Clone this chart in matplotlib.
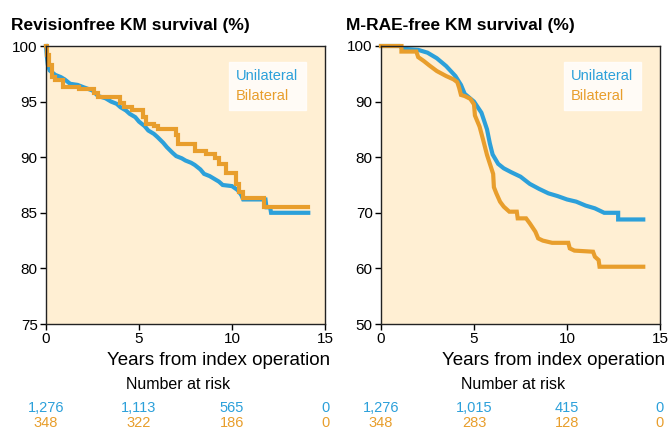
import matplotlib
matplotlib.use('Agg')
import matplotlib.pyplot as plt
from matplotlib.lines import Line2D

plt.rcParams['font.family'] = ['Liberation Sans', 'DejaVu Sans']

#Colours
c_uni = '#2ca0da'
c_bil = '#e89e2c'
c_bg = '#ffefd3'

#### Data ######################################################################
#Revision-free KM survival (%) - unilateral (curve vertices)
rev_uni_t = [0, 0.05, 0.1, 0.2, 0.35, 0.5, 0.8, 1.0, 1.3, 1.7, 2.0, 2.5, 2.8, 3.2, 3.5, 3.8,
             4.0, 4.3, 4.5, 4.8, 5.0, 5.3, 5.5, 5.8, 6.0, 6.3, 6.5, 6.8, 7.0, 7.3, 7.5, 7.8,
             8.0, 8.3, 8.5, 8.8, 9.0, 9.3, 9.5, 10.0, 10.3, 10.5, 10.6, 11.8, 11.85, 12.05, 12.1, 14.1]
rev_uni_s = [100, 99.0, 98.3, 97.8, 97.6, 97.4, 97.2, 97.0, 96.6, 96.5, 96.3, 96.0, 95.5, 95.3, 95.0, 94.8,
             94.5, 94.2, 93.9, 93.6, 93.2, 92.8, 92.4, 92.1, 91.8, 91.3, 90.9, 90.4, 90.1, 89.9, 89.7, 89.5,
             89.3, 88.9, 88.5, 88.3, 88.1, 87.8, 87.5, 87.4, 87.05, 86.6, 86.2, 86.2, 85.5, 85.5, 85.0, 85.0]

#Revision-free KM survival (%) - bilateral (step function)
rev_bil_t = [0, 0.05, 0.15, 0.3, 0.5, 0.9, 1.8, 2.6, 2.8, 4.0, 4.2, 4.6, 5.2, 5.4, 5.8, 6.0,
             7.0, 7.1, 8.0, 8.6, 9.1, 9.3, 9.7, 10.2, 10.4, 10.6, 11.7, 14.1]
rev_bil_s = [100, 99.2, 98.3, 97.2, 96.9, 96.3, 96.1, 95.8, 95.4, 94.9, 94.5, 94.2, 93.6, 93.0, 92.8, 92.5,
             92.0, 91.2, 90.6, 90.3, 89.9, 89.4, 88.6, 87.6, 86.9, 86.3, 85.5, 85.5]

#M-RAE-free KM survival (%) - unilateral (curve vertices)
rae_uni_t = [0, 1.0, 1.2, 2.0, 2.5, 3.0, 3.5, 4.0, 4.3, 4.5, 5.0, 5.4, 5.7, 5.85, 6.0,
             6.3, 6.6, 7.0, 7.5, 8.0, 8.5, 9.0, 9.5, 10.0, 10.5, 11.0, 11.5, 12.0, 12.75, 12.75, 14.1]
rae_uni_s = [100, 100, 99.5, 99.3, 98.8, 97.8, 96.4, 94.6, 93.0, 91.4, 90.0, 88.0, 85.0, 82.5, 80.5,
             78.8, 78.0, 77.3, 76.5, 75.2, 74.3, 73.5, 73.0, 72.4, 72.0, 71.3, 70.8, 70.0, 70.0, 68.8, 68.8]

#M-RAE-free KM survival (%) - bilateral (curve vertices)
rae_bil_t = [0, 1.1, 1.1, 1.9, 2.0, 2.3, 2.6, 3.0, 3.5, 3.9, 4.1, 4.2, 4.3, 4.5, 4.8, 5.0, 5.05, 5.3, 5.5,
             5.7, 6.03, 6.07, 6.2, 6.4, 6.6, 6.9, 7.3, 7.35, 7.8, 8.0, 8.3, 8.45, 8.7, 9.2, 10.07, 10.15,
             10.4, 11.4, 11.5, 11.7, 11.75, 14.1]
rae_bil_s = [100, 100, 99.0, 99.0, 98.0, 97.3, 96.5, 95.5, 94.6, 94.0, 93.5, 92.5, 91.2, 91.0, 90.5, 89.5, 87.5, 85.5, 83.0,
             80.4, 77.0, 74.6, 73.5, 72.0, 71.1, 70.2, 70.2, 69.0, 69.0, 68.1, 66.6, 65.4, 65.0, 64.6, 64.6, 63.6,
             63.2, 63.0, 62.1, 61.5, 60.3, 60.3]

#Number at risk
risk_years = [0, 5, 10, 15]
rev_risk_uni = ['1,276', '1,113', '565', '0']
rev_risk_bil = ['348', '322', '186', '0']
rae_risk_uni = ['1,276', '1,015', '415', '0']
rae_risk_bil = ['348', '283', '128', '0']

panels = [
    dict(title='Revisionfree KM survival (%)', uni=(rev_uni_t, rev_uni_s, 'default'),
         bil=(rev_bil_t, rev_bil_s, 'steps-post'),
         ylim=(75, 100), yticks=range(75, 101, 5), risk=(rev_risk_uni, rev_risk_bil), left=46),
    dict(title='M-RAE-free KM survival (%)', uni=(rae_uni_t, rae_uni_s, 'default'),
         bil=(rae_bil_t, rae_bil_s, 'default'),
         ylim=(50, 100), yticks=range(50, 101, 10), risk=(rae_risk_uni, rae_risk_bil), left=381),
]

#### Plot ######################################################################
W, H = 669, 429
fig = plt.figure(figsize=(W/100, H/100), dpi=100)

for p in panels:
    ax = fig.add_axes([p['left']/W, 1-324/H, 279/W, 278/H])
    ax.set_facecolor(c_bg)
    for key, col in (('uni', c_uni), ('bil', c_bil)):
        t, s, ds = p[key]
        ax.plot(t, s, drawstyle=ds, color=col, lw=3, solid_joinstyle='miter', clip_on=False)
    ax.set_xlim(0, 15)
    ax.set_ylim(*p['ylim'])
    ax.set_xticks([0, 5, 10, 15])
    ax.set_yticks(list(p['yticks']))
    ax.tick_params(labelsize=11, length=4, width=1, direction='out', top=False, right=False, pad=2)
    for s in ax.spines.values():
        s.set_linewidth(1)
        s.set_color('#222222')
    ax.text(-0.125, 1.075, p['title'], transform=ax.transAxes, fontsize=12.5, fontweight='bold',
            ha='left', va='center')
    ax.set_xlabel('Years from index operation', fontsize=13.5)
    ax.xaxis.set_label_coords(0.62, -0.10)

    handles = [Line2D([], [], lw=0), Line2D([], [], lw=0)]
    leg = ax.legend(handles, ['Unilateral', 'Bilateral'], loc='upper right', bbox_to_anchor=(0.957, 0.968),
                    frameon=True, fancybox=False, fontsize=10.5, handlelength=0, handletextpad=0,
                    borderpad=0.5, labelspacing=0.35, labelcolor=[c_uni, c_bil])
    leg.get_frame().set_facecolor('white')
    leg.get_frame().set_edgecolor('white')

    #Number at risk table
    ax.text(0.473, -0.216, 'Number at risk', transform=ax.transAxes, fontsize=11.5, ha='center', va='center')
    tr = ax.get_xaxis_transform()
    for x, u, b in zip(risk_years, p['risk'][0], p['risk'][1]):
        ax.text(x, -0.302, u, transform=tr, color=c_uni, fontsize=10.5, ha='center', va='center', clip_on=False)
        ax.text(x, -0.356, b, transform=tr, color=c_bil, fontsize=10.5, ha='center', va='center', clip_on=False)

fig.savefig('out.png', dpi=100)
